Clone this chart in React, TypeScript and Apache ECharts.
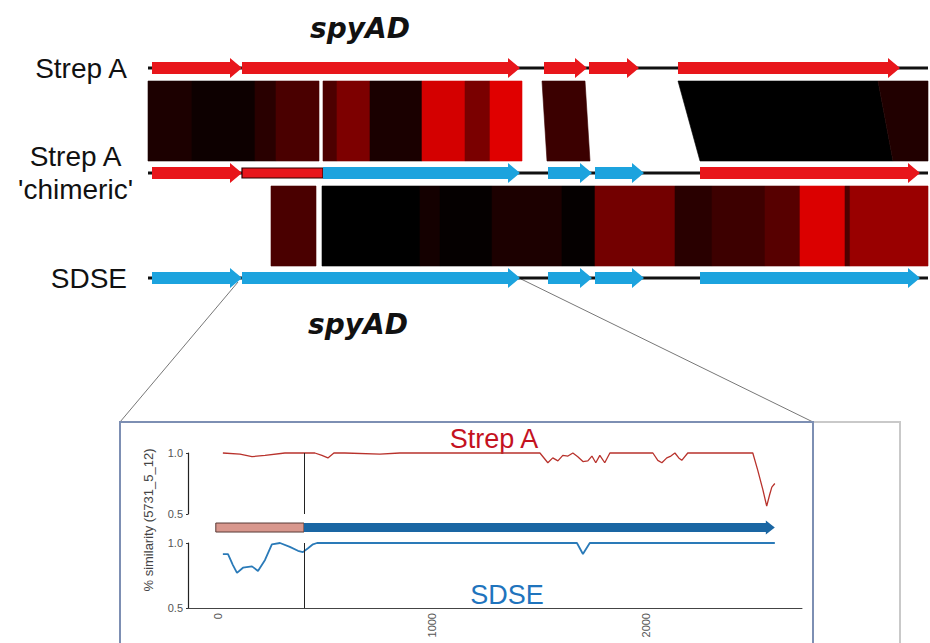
import React, { useEffect, useRef } from 'react';
import * as echarts from 'echarts';

// ---------- top panel: genome comparison ----------
const trackNames = ['Strep A', "Strep A\n'chimeric'", 'SDSE'];
// genes: [track, start, end, kind]  kind 0 = Strep A gene, 1 = SDSE gene, 2 = Strep A fragment (no head)
const strepAGenes = [[0, 70, 970, 0], [0, 970, 3750, 0], [0, 3990, 4420, 0], [0, 4440, 4940, 0], [0, 5330, 7550, 0]];
const chimericGenes = [[1, 70, 970, 0], [1, 970, 1780, 2], [1, 1780, 3750, 1], [1, 4030, 4470, 1], [1, 4500, 4990, 1], [1, 5550, 7750, 0]];
const sdseGenes = [[2, 70, 970, 1], [2, 970, 3750, 1], [2, 4030, 4470, 1], [2, 4500, 4990, 1], [2, 5550, 7750, 1]];
const backbones = [[0, 30, 7830], [1, 30, 7830], [2, 30, 7830]];
// similarity blocks: [pair, topStart, topEnd, bottomStart, bottomEnd, shade(0-100)]
const blocksStrepAChimeric = [
  [0, 30, 470, 30, 470, 11], [0, 470, 1100, 470, 1100, 5], [0, 1100, 1310, 1100, 1310, 16],
  [0, 1310, 1740, 1310, 1740, 29], [0, 1780, 1920, 1780, 1920, 30], [0, 1920, 2250, 1920, 2250, 49],
  [0, 2250, 2770, 2250, 2770, 10], [0, 2770, 3200, 2770, 3200, 83], [0, 3200, 3450, 3200, 3450, 48],
  [0, 3450, 3770, 3450, 3770, 88], [0, 3970, 4400, 4020, 4450, 23], [0, 5330, 7330, 5550, 7480, 0],
  [0, 7330, 7830, 7480, 7830, 13],
];
const blocksChimericSDSE = [
  [1, 1260, 1710, 1260, 1710, 29], [1, 1770, 2750, 1770, 2750, 0], [1, 2750, 2950, 2750, 2950, 8],
  [1, 2950, 3470, 2950, 3470, 2], [1, 3470, 4170, 3470, 4170, 11], [1, 4170, 4500, 4170, 4500, 2],
  [1, 4500, 5300, 4500, 5300, 45], [1, 5300, 5670, 5300, 5670, 16], [1, 5670, 6200, 5670, 6200, 24],
  [1, 6200, 6550, 6200, 6550, 34], [1, 6550, 7000, 6550, 7000, 86], [1, 7000, 7050, 7000, 7050, 31],
  [1, 7050, 7830, 7050, 7830, 60],
];

// ---------- bottom panel: similarity plot ----------
const strepAPos = [23, 103, 159, 220, 313, 402, 453, 486, 514, 542, 593, 757, 850, 953, 1037, 1318, 1505, 1542, 1565, 1589, 1612, 1636, 1659, 1682, 1706, 1729, 1748, 1766, 1785, 1808, 1832, 2033, 2056, 2075, 2098, 2117, 2136, 2154, 2168, 2196, 2500, 2523, 2547, 2565, 2579, 2589, 2603];
const strepASim = [1.0, 0.99, 0.97, 0.98, 1.0, 1.0, 1.0, 0.98, 0.96, 1.0, 1.0, 0.99, 1.0, 1.0, 1.0, 1.0, 1.0, 0.92, 0.96, 0.935, 0.98, 0.975, 1.0, 0.97, 0.93, 0.935, 0.975, 0.92, 0.98, 0.92, 1.0, 1.0, 0.94, 0.92, 0.96, 0.975, 1.0, 0.96, 0.94, 1.0, 1.0, 0.86, 0.7, 0.565, 0.66, 0.72, 0.75];
const sdsePos = [23, 47, 70, 89, 117, 159, 187, 220, 252, 290, 336, 374, 397, 421, 444, 463, 1678, 1706, 1738, 2603];
const sdseSim = [0.915, 0.915, 0.83, 0.77, 0.81, 0.82, 0.785, 0.87, 0.99, 1.0, 0.97, 0.94, 0.93, 0.96, 0.99, 1.0, 1.0, 0.915, 1.0, 1.0];
const breakpoint = 402;
// lower gene bar: [start, end, kind] kind 0 = Strep A part, 1 = SDSE part
const spyADSegments = [[-10, 402, 0], [402, 2603, 1]];
const xTicks = [0, 1000, 2000];

const RED = '#e8161b';
const BLUE = '#1ca3de';
const FONT = '"Liberation Sans", Arial, sans-serif';

function shadeColor(level: number) {
  const r = Math.round(level * 2.55);
  return `rgb(${r},0,0)`;
}

export default function App() {
  const ref = useRef<HTMLDivElement>(null);
  useEffect(() => {
    if (!ref.current) return;
    const chart = echarts.init(ref.current, undefined, { renderer: 'svg' });

    const geneRender = (params: any, api: any) => {
      const track = api.value(0), s = api.value(1), e = api.value(2), kind = api.value(3);
      const p0 = api.coord([s, track]);
      const p1 = api.coord([e, track]);
      const y = p0[1], x0 = p0[0], x1 = p1[0];
      if (kind === 2) {
        return { type: 'rect', shape: { x: x0, y: y - 5, width: x1 - x0, height: 10 }, style: { fill: RED, stroke: '#2a0000', lineWidth: 1.2 } };
      }
      const bh = 6, hh = 10, hl = 12;
      const hb = Math.max(x0, x1 - hl);
      return {
        type: 'polygon',
        shape: { points: [[x0, y - bh], [hb, y - bh], [hb, y - hh], [x1, y], [hb, y + hh], [hb, y + bh], [x0, y + bh]] },
        style: { fill: kind === 0 ? RED : BLUE },
      };
    };

    const blockRender = (params: any, api: any) => {
      const pair = api.value(0);
      const ts = api.coord([api.value(1), pair + 0.124]);
      const te = api.coord([api.value(2), pair + 0.124]);
      const bs = api.coord([api.value(3), pair + 0.886]);
      const be = api.coord([api.value(4), pair + 0.886]);
      const c = shadeColor(api.value(5));
      return { type: 'polygon', shape: { points: [ts, te, be, bs] }, style: { fill: c, stroke: c, lineWidth: 0.6 } };
    };

    const backboneRender = (params: any, api: any) => {
      const t = api.value(0);
      const a = api.coord([api.value(1), t]);
      const b = api.coord([api.value(2), t]);
      return { type: 'line', shape: { x1: a[0], y1: a[1], x2: b[0], y2: b[1] }, style: { stroke: '#111', lineWidth: 3 } };
    };

    const spyADRender = (params: any, api: any) => {
      const s = api.coord([api.value(0), 1.119]);
      const e = api.coord([api.value(1), 1.119]);
      const kind = api.value(2);
      const y = s[1];
      if (kind === 0) {
        return { type: 'rect', shape: { x: s[0], y: y - 4.5, width: e[0] - s[0], height: 9 }, style: { fill: '#d8978d', stroke: '#5a3a36', lineWidth: 1 } };
      }
      const hb = e[0] - 9;
      return {
        type: 'polygon',
        shape: { points: [[s[0], y - 4.5], [hb, y - 4.5], [hb, y - 7], [e[0], y], [hb, y + 7], [hb, y + 4.5], [s[0], y + 4.5]] },
        style: { fill: '#1a66a3' },
      };
    };

    const labelText = (v: number) => {
      const name = trackNames[Math.round(v)];
      if (v === 1) return name.split('\n').map((l) => `{c|${l}}`).join('\n');
      return `{r|${name}}`;
    };

    const simYAxis = (gridIndex: number) => ({
      gridIndex, type: 'value', min: 0.5, max: 1.0, interval: 0.5,
      axisLine: { show: true, onZero: false, lineStyle: { color: '#222', width: 1.2 } },
      axisTick: { show: true, length: 2, lineStyle: { color: '#333' } }, splitLine: { show: false },
      axisLabel: { formatter: (v: number) => v.toFixed(1), fontSize: 11, color: '#555', margin: 5, fontFamily: FONT },
    });

    const option: any = {
      animation: false,
      backgroundColor: '#ffffff',
      grid: [
        { left: 145, top: 68, width: 785, height: 210 },
        { left: 188, top: 453, width: 614, height: 61 },
        { left: 188, top: 543, width: 614, height: 65 },
      ],
      xAxis: [
        { gridIndex: 0, type: 'value', min: 0, max: 7850, show: false },
        { gridIndex: 1, type: 'value', min: -140, max: 2730, show: false },
        {
          gridIndex: 2, type: 'value', min: -140, max: 2730,
          axisLine: { show: true, onZero: false, lineStyle: { color: '#444', width: 1 } },
          axisTick: { show: false },
          splitLine: { show: false },
          axisLabel: { customValues: xTicks, formatter: (v: number) => String(v), rotate: 90, margin: 5, fontSize: 11, color: '#555', fontFamily: FONT },
        },
      ],
      yAxis: [
        {
          gridIndex: 0, type: 'value', min: 0, max: 2, interval: 1, inverse: true,
          axisLine: { show: false }, axisTick: { show: false }, splitLine: { show: false },
          axisLabel: {
            margin: 12, align: 'right', formatter: labelText,
            rich: {
              r: { fontSize: 28, fontFamily: FONT, color: '#111', padding: [0, 6, 0, 0] },
              c: { fontSize: 28, fontFamily: FONT, color: '#111', align: 'center', lineHeight: 33 },
            },
          },
        },
        simYAxis(1),
        simYAxis(2),
      ],
      series: [
        { type: 'custom', name: 'backbone', xAxisIndex: 0, yAxisIndex: 0, renderItem: backboneRender, data: backbones, encode: { x: [1, 2], y: 0 }, clip: false, silent: true },
        { type: 'custom', name: 'blocks1', xAxisIndex: 0, yAxisIndex: 0, renderItem: blockRender, data: blocksStrepAChimeric, encode: { x: [1, 2, 3, 4], y: 0 }, clip: false, silent: true },
        { type: 'custom', name: 'blocks2', xAxisIndex: 0, yAxisIndex: 0, renderItem: blockRender, data: blocksChimericSDSE, encode: { x: [1, 2, 3, 4], y: 0 }, clip: false, silent: true },
        { type: 'custom', name: 'Strep A genes', xAxisIndex: 0, yAxisIndex: 0, renderItem: geneRender, data: strepAGenes, encode: { x: [1, 2], y: 0 }, clip: false, silent: true },
        { type: 'custom', name: 'chimeric genes', xAxisIndex: 0, yAxisIndex: 0, renderItem: geneRender, data: chimericGenes, encode: { x: [1, 2], y: 0 }, clip: false, silent: true },
        { type: 'custom', name: 'SDSE genes', xAxisIndex: 0, yAxisIndex: 0, renderItem: geneRender, data: sdseGenes, encode: { x: [1, 2], y: 0 }, clip: false, silent: true },
        {
          type: 'line', name: 'Strep A', xAxisIndex: 1, yAxisIndex: 1,
          data: strepAPos.map((x, i) => [x, strepASim[i]]),
          showSymbol: false, lineStyle: { color: '#b8322c', width: 1.3 }, clip: false,
          markLine: { silent: true, symbol: 'none', label: { show: false }, lineStyle: { color: '#222', width: 1, type: 'solid' }, data: [{ xAxis: breakpoint }] },
        },
        {
          type: 'line', name: 'SDSE', xAxisIndex: 2, yAxisIndex: 2,
          data: sdsePos.map((x, i) => [x, sdseSim[i]]),
          showSymbol: false, lineStyle: { color: '#2a7ab8', width: 1.8 }, clip: false,
          markLine: { silent: true, symbol: 'none', label: { show: false }, lineStyle: { color: '#222', width: 1, type: 'solid' }, data: [{ xAxis: breakpoint }] },
        },
        { type: 'custom', name: 'spyAD', xAxisIndex: 2, yAxisIndex: 2, renderItem: spyADRender, data: spyADSegments, encode: { x: [0, 1] }, clip: false, silent: true },
      ],
      graphic: [
        { type: 'line', shape: { x1: 238, y1: 282, x2: 120, y2: 422 }, style: { stroke: '#777', lineWidth: 1 }, silent: true },
        { type: 'line', shape: { x1: 521, y1: 279, x2: 813, y2: 422 }, style: { stroke: '#777', lineWidth: 1 }, silent: true },
        { type: 'polyline', shape: { points: [[813, 422], [900, 422], [900, 650]] }, style: { stroke: '#c9c9c9', lineWidth: 2, fill: 'none' }, silent: true },
        { type: 'polyline', shape: { points: [[120, 650], [120, 422], [813, 422], [813, 650]] }, style: { stroke: '#7d8fb3', lineWidth: 2, fill: 'none' }, silent: true },
        { type: 'text', x: 360, y: 28, style: { text: 'spyAD', fontSize: 28, fontWeight: 'bold', fontStyle: 'italic', fontFamily: '"DejaVu Sans", sans-serif', fill: '#111', align: 'center', verticalAlign: 'middle' }, silent: true },
        { type: 'text', x: 358, y: 324, style: { text: 'spyAD', fontSize: 28, fontWeight: 'bold', fontStyle: 'italic', fontFamily: '"DejaVu Sans", sans-serif', fill: '#111', align: 'center', verticalAlign: 'middle' }, silent: true },
        { type: 'text', x: 494, y: 439, style: { text: 'Strep A', fontSize: 27, fontFamily: FONT, fill: '#c4121f', align: 'center', verticalAlign: 'middle' }, silent: true },
        { type: 'text', x: 507, y: 595, style: { text: 'SDSE', fontSize: 27, fontFamily: FONT, fill: '#1f74bd', align: 'center', verticalAlign: 'middle' }, silent: true },
        { type: 'text', x: 148, y: 520, rotation: Math.PI / 2, style: { text: '% similarity (5731_5_12)', fontSize: 13, fontFamily: FONT, fill: '#444', align: 'center', verticalAlign: 'middle' }, silent: true },
      ],
    };
    chart.setOption(option);
    return () => chart.dispose();
  }, []);
  return <div ref={ref} style={{ position: 'fixed', left: 0, top: 0, width: 930, height: 643 }} />;
}
